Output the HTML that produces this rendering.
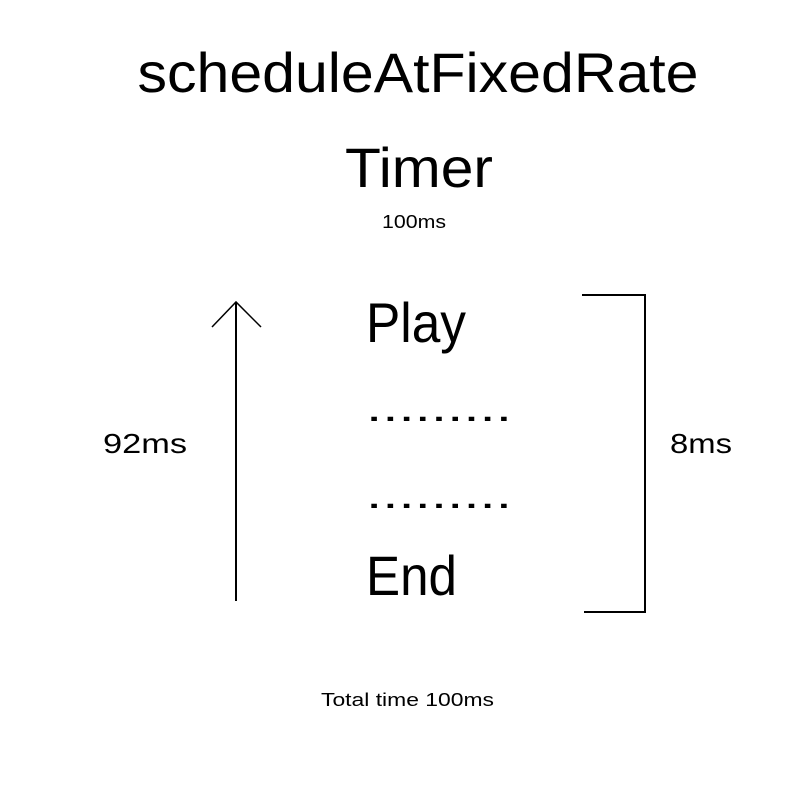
<!DOCTYPE html>
<html><head><meta charset="utf-8"><style>html,body{margin:0;padding:0;background:#fff}</style></head>
<body>
<svg width="800" height="800" xmlns="http://www.w3.org/2000/svg" font-family="'Liberation Sans', 'DejaVu Sans', sans-serif" fill="#000">
<rect width="800" height="800" fill="#fff"/>
<text x="418" y="92" font-size="56" text-anchor="middle" textLength="561" lengthAdjust="spacingAndGlyphs">scheduleAtFixedRate</text>
<text x="419" y="187" font-size="56" text-anchor="middle" textLength="148" lengthAdjust="spacingAndGlyphs">Timer</text>
<text x="382" y="228" font-size="18" textLength="64" lengthAdjust="spacingAndGlyphs">100ms</text>
<text x="366" y="342" font-size="56" textLength="100" lengthAdjust="spacingAndGlyphs">Play</text>
<text x="366" y="421" font-size="40" textLength="146" lengthAdjust="spacingAndGlyphs">.........</text>
<text x="366" y="508" font-size="40" textLength="146" lengthAdjust="spacingAndGlyphs">.........</text>
<text x="366" y="595" font-size="56" textLength="91" lengthAdjust="spacingAndGlyphs">End</text>
<g stroke="#000" stroke-width="2" fill="none">
<line x1="236" y1="302" x2="236" y2="601"/>
<polyline points="212,327 236,302 261,327" stroke-width="1.5"/>
<polyline points="582,295 645,295 645,612 584,612" stroke-width="2"/>
</g>
<text x="103" y="453" font-size="28" textLength="84" lengthAdjust="spacingAndGlyphs">92ms</text>
<text x="670" y="453" font-size="28" textLength="62" lengthAdjust="spacingAndGlyphs">8ms</text>
<text x="321" y="706" font-size="18" textLength="173" lengthAdjust="spacingAndGlyphs">Total time  100ms</text>
</svg>
</body></html>
